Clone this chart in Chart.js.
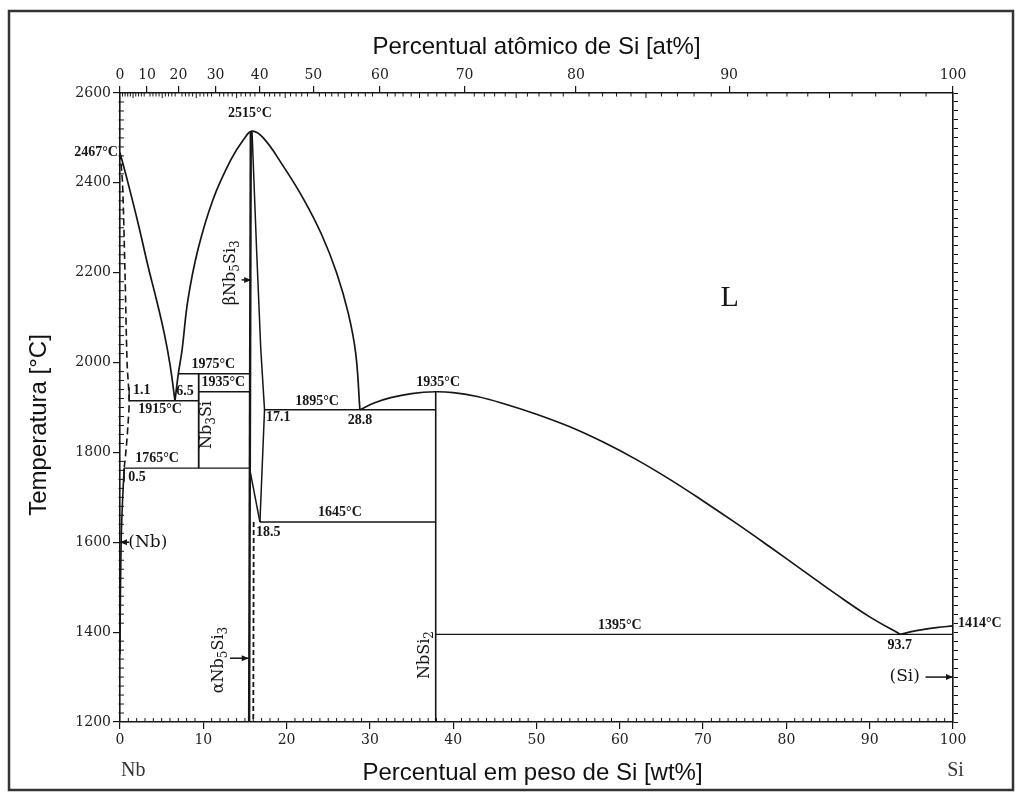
<!DOCTYPE html>
<html>
<head>
<meta charset="utf-8">
<script src="https://cdn.jsdelivr.net/npm/chart.js@4.4.1/dist/chart.umd.min.js"></script>
<style>
  html, body { margin: 0; padding: 0; background: #fff; }
  canvas { display: block; }
</style>
</head>
<body>
<canvas id="phaseChart" width="1021" height="800"></canvas>
<script>
// Nb-Si phase diagram: temperature (°C) against weight percent Si

const INK = '#161616';

// axis ticks
const wtTicks = [0, 10, 20, 30, 40, 50, 60, 70, 80, 90, 100];
const tempTicks = [1200, 1400, 1600, 1800, 2000, 2200, 2400, 2600];
const atTicks = [0, 10, 20, 30, 40, 50, 60, 70, 80, 90, 100];

// liquidus on the Nb side
const nbLiqWt = [0, 0.96, 2.2, 3.36, 4.4, 5.3, 6.0, 6.6];
const nbLiqT  = [2467, 2400, 2308, 2215, 2138, 2066, 1996, 1915];

// (Nb) solidus and solvus, dashed part
const nbSolWt = [0, 0.3, 0.6, 0.85, 1.1, 0.95, 0.75, 0.5];
const nbSolT  = [2467, 2400, 2200, 2000, 1915, 1860, 1810, 1765];
// (Nb) solvus, solid part
const nbSolvWt = [0.5, 0.3, 0.15, 0.05, 0];
const nbSolvT  = [1765, 1690, 1610, 1480, 1350];

// Nb3Si / Nb5Si3 liquidus dome
const domeWt = [6.6, 7.0, 7.45, 8.15, 9.35, 11.15, 13.3, 14.9, 15.85, 17.2, 19.5, 22.0, 24.2, 26.0, 27.4, 28.3, 28.8];
const domeT  = [1915, 1975, 2028, 2139, 2251, 2362, 2451, 2498, 2515, 2500, 2440, 2365, 2285, 2200, 2110, 2020, 1895];

// NbSi2 liquidus
const nbsi2LiqWt = [28.8, 30.5, 32.5, 35, 37.9, 40, 43, 46, 50, 54, 58, 62, 66, 70, 74, 78, 82, 86, 90, 93.7];
const nbsi2LiqT  = [1895, 1910, 1922, 1931, 1935, 1933, 1924, 1909, 1885, 1857, 1823, 1784, 1740, 1692, 1642, 1590, 1537, 1484, 1434, 1395];

// Si liquidus
const siLiqWt = [93.7, 95, 96.5, 98, 100];
const siLiqT  = [1395, 1401, 1406, 1410, 1414];

// Nb5Si3 field boundaries
const nb5si3LeftWt = [15.7, 15.5];
const nb5si3LeftT  = [2515, 1200];
const betaRightWt = [15.85, 16.4, 16.9, 17.35, 16.8];
const betaRightT  = [2515, 2250, 2030, 1895, 1645];
const alphaBetaWt = [15.55, 16.8];
const alphaBetaT  = [1765, 1645];
const alphaRightWt = [16.05, 16.0];
const alphaRightT  = [1645, 1200];

// compound lines
const nb3siWt = [9.45, 9.45];
const nb3siT  = [1975, 1765];
const nbsi2Wt = [37.9, 37.9];
const nbsi2T  = [1935, 1200];

// isotherms
const iso1975Wt = [7.0, 15.6];
const iso1975T  = [1975, 1975];
const iso1935Wt = [9.45, 15.6];
const iso1935T  = [1935, 1935];
const iso1915Wt = [1.1, 9.45];
const iso1915T  = [1915, 1915];
const iso1765Wt = [0.5, 15.55];
const iso1765T  = [1765, 1765];
const iso1895Wt = [17.35, 37.9];
const iso1895T  = [1895, 1895];
const iso1645Wt = [16.8, 37.9];
const iso1645T  = [1645, 1645];
const iso1395Wt = [37.9, 100];
const iso1395T  = [1395, 1395];

// short leaders to the composition labels
const lead11Wt = [1.1, 1.1];
const lead11T  = [1915, 1945];
const lead05Wt = [0.5, 0.5];
const lead05T  = [1765, 1735];

// arrows (tail -> head), wt% and °C
const arrowTails = [[1.1, 1600], [96.7, 1300], [13.2, 1342], [14.6, 2184]];
const arrowHeads = [[0, 1600], [100, 1300], [15.45, 1342], [15.75, 2184]];

// point labels
const noteText  = ['2515°C', '2467°C', '1975°C', '1935°C', '1.1', '1915°C', '6.5', '1765°C', '0.5', '1895°C', '17.1', '28.8', '1935°C', '1645°C', '18.5', '1395°C', '93.7', '1414°C'];
const noteWt    = [15.6, -0.25, 11.2, 12.4, 2.6, 4.8, 7.8, 4.45, 2.05, 23.65, 19.0, 28.8, 38.2, 26.4, 17.8, 60.0, 93.6, 100.6];
const noteT     = [2555, 2467, 1995, 1955, 1937, 1895, 1935, 1787, 1745, 1913, 1879, 1872, 1955, 1666, 1622, 1414, 1370, 1420];
const noteAlign = ['center', 'right', 'center', 'center', 'center', 'center', 'center', 'center', 'center', 'center', 'center', 'center', 'center', 'center', 'center', 'center', 'center', 'left'];

// phase names
const phaseText  = ['(Nb)', '(Si)'];
const phaseWt    = [1.0, 94.2];
const phaseT     = [1600, 1300];
const phaseAlign = ['left', 'center'];

// vertical compound names (_x = subscript)
const rotText = ['βNb_5Si_3', 'αNb_5Si_3', 'Nb_3Si', 'NbSi_2'];
const rotWt   = [13.3, 11.9, 10.45, 36.6];
const rotT    = [2200, 1338, 1861, 1349];

const SI_MASS = 28.0855, NB_MASS = 92.90638;
function atToWt(a) {
    return 100 * a * SI_MASS / (a * SI_MASS + (100 - a) * NB_MASS);
}

function line(wt, temp, extra) {
    return Object.assign({
        data: wt.map((x, i) => ({ x: x, y: temp[i] })),
        showLine: true,
        pointRadius: 0,
        pointHoverRadius: 0,
        borderColor: INK,
        borderWidth: 1.4,
        tension: 0,
        fill: false
    }, extra || {});
}
const curve = { tension: 0.4, borderWidth: 1.7 };

// text with simple subscripts
function drawRich(ctx, text, x, y, size, family, weight) {
    const parts = [];
    for (let i = 0; i < text.length; i++) {
        if (text[i] === '_') {
            parts.push({ s: text[i + 1], sub: true });
            i++;
        } else if (parts.length && !parts[parts.length - 1].sub) {
            parts[parts.length - 1].s += text[i];
        } else {
            parts.push({ s: text[i], sub: false });
        }
    }
    const mainFont = weight + ' ' + size + 'px ' + family;
    const subFont = weight + ' ' + Math.round(size * 0.78) + 'px ' + family;
    let total = 0;
    parts.forEach(p => {
        ctx.font = p.sub ? subFont : mainFont;
        p.w = ctx.measureText(p.s).width;
        total += p.w;
    });
    let cx = x - total / 2;
    ctx.textAlign = 'left';
    parts.forEach(p => {
        ctx.font = p.sub ? subFont : mainFont;
        ctx.fillText(p.s, cx, y + (p.sub ? size * 0.3 : 0));
        cx += p.w;
    });
}

const diagramExtras = {
    id: 'diagramExtras',
    afterDraw(chart) {
        const ctx = chart.ctx;
        const xs = chart.scales.x, ys = chart.scales.y;
        const area = chart.chartArea;
        const px = v => xs.getPixelForValue(v);
        const py = v => ys.getPixelForValue(v);

        ctx.save();
        ctx.strokeStyle = INK;
        ctx.fillStyle = INK;

        // minor ticks
        ctx.lineWidth = 1;
        ctx.beginPath();
        for (let w = 1; w < 100; w++) {
            if (w % 10 === 0) continue;
            ctx.moveTo(px(w), area.bottom);
            ctx.lineTo(px(w), area.bottom - 4);
        }
        for (let a = 1; a < 100; a++) {
            if (a % 10 === 0) continue;
            const x = px(atToWt(a));
            ctx.moveTo(x, area.top);
            ctx.lineTo(x, area.top + (a % 5 === 0 ? 5 : 3.5));
        }
        for (let t = 1220; t < 2600; t += 20) {
            if (t % 200 === 0) continue;
            ctx.moveTo(area.left - 1.5, py(t));
            ctx.lineTo(area.left + 4, py(t));
        }
        ctx.stroke();

        // arrows
        ctx.lineWidth = 1.5;
        arrowTails.forEach((tail, i) => {
            const head = arrowHeads[i];
            const x0 = px(tail[0]), y0 = py(tail[1]);
            const x1 = px(head[0]), y1 = py(head[1]);
            const dir = Math.sign(x1 - x0);
            ctx.beginPath();
            ctx.moveTo(x0, y0);
            ctx.lineTo(x1, y1);
            ctx.stroke();
            ctx.beginPath();
            ctx.moveTo(x1, y1);
            ctx.lineTo(x1 - dir * 7, y1 - 3);
            ctx.lineTo(x1 - dir * 7, y1 + 3);
            ctx.closePath();
            ctx.fill();
        });

        // point labels
        ctx.textBaseline = 'middle';
        ctx.font = 'bold 14px "Liberation Serif"';
        noteText.forEach((s, i) => {
            ctx.textAlign = noteAlign[i];
            ctx.fillText(s, px(noteWt[i]), py(noteT[i]));
        });

        ctx.font = '17px "DejaVu Serif"';
        phaseText.forEach((s, i) => {
            ctx.textAlign = phaseAlign[i];
            ctx.fillText(s, px(phaseWt[i]), py(phaseT[i]));
        });

        ctx.font = '30px "Liberation Serif"';
        ctx.textAlign = 'center';
        ctx.fillText('L', px(73.2), py(2144));

        rotText.forEach((s, i) => {
            ctx.save();
            ctx.translate(px(rotWt[i]), py(rotT[i]));
            ctx.rotate(-Math.PI / 2);
            drawRich(ctx, s, 0, 0, 16, '"DejaVu Serif"', 'normal');
            ctx.restore();
        });

        // axis titles
        ctx.fillStyle = '#111';
        ctx.font = '24px "Liberation Sans"';
        ctx.textAlign = 'center';
        ctx.fillText('Percentual atômico de Si [at%]', (area.left + area.right) / 2, 47);
        ctx.fillText('Percentual em peso de Si [wt%]', (area.left + area.right) / 2 - 4, 773);
        ctx.save();
        ctx.translate(39, 425);
        ctx.rotate(-Math.PI / 2);
        ctx.fillText('Temperatura [°C]', 0, 0);
        ctx.restore();

        // element names under the axis ends
        ctx.fillStyle = '#333';
        ctx.font = '20px "Liberation Serif"';
        ctx.fillText('Nb', px(1.6), 771);
        ctx.fillText('Si', px(100.3), 771);

        // outer frame
        ctx.strokeStyle = '#333';
        ctx.lineWidth = 2.5;
        ctx.strokeRect(9, 11, 1004, 779);
        ctx.restore();
    }
};

Chart.defaults.font.family = '"DejaVu Serif"';
Chart.defaults.color = '#222';

const tickFont = { size: 14 };
const axisGrid = { drawOnChartArea: false, tickLength: 7, color: INK, lineWidth: 1.2 };
const axisBorder = { color: INK, width: 1.6 };

new Chart(document.getElementById('phaseChart'), {
    type: 'scatter',
    data: {
        datasets: [
            line(nbLiqWt, nbLiqT, curve),
            line(nbSolWt, nbSolT, { borderDash: [7, 4], borderWidth: 1.6, tension: 0.3 }),
            line(nbSolvWt, nbSolvT, { borderWidth: 1.6, tension: 0.3 }),
            line(domeWt, domeT, curve),
            line(nbsi2LiqWt, nbsi2LiqT, curve),
            line(siLiqWt, siLiqT, curve),
            line(nb5si3LeftWt, nb5si3LeftT, { borderWidth: 2.4 }),
            line(betaRightWt, betaRightT, { borderWidth: 1.5 }),
            line(alphaBetaWt, alphaBetaT, { borderWidth: 1.5 }),
            line(alphaRightWt, alphaRightT, { borderDash: [5, 3], borderWidth: 1.8 }),
            line(nb3siWt, nb3siT, { borderWidth: 1.8 }),
            line(nbsi2Wt, nbsi2T, { borderWidth: 1.6 }),
            line(iso1975Wt, iso1975T),
            line(iso1935Wt, iso1935T),
            line(iso1915Wt, iso1915T),
            line(iso1765Wt, iso1765T),
            line(iso1895Wt, iso1895T),
            line(iso1645Wt, iso1645T),
            line(iso1395Wt, iso1395T),
            line(lead11Wt, lead11T),
            line(lead05Wt, lead05T)
        ]
    },
    options: {
        responsive: false,
        animation: false,
        layout: { padding: 0 },
        plugins: {
            legend: { display: false },
            tooltip: { enabled: false }
        },
        scales: {
            x: {
                type: 'linear',
                position: 'bottom',
                min: 0,
                max: 100,
                afterBuildTicks: s => { s.ticks = wtTicks.map(v => ({ value: v })); },
                ticks: { autoSkip: false, maxRotation: 0, padding: 3, font: tickFont, callback: v => String(v) },
                grid: axisGrid,
                border: axisBorder,
                afterFit: s => { s.height = 800 - 722; }
            },
            xTop: {
                type: 'linear',
                position: 'top',
                min: 0,
                max: 100,
                afterBuildTicks: s => { s.ticks = atTicks.map(a => ({ value: atToWt(a) })); },
                ticks: {
                    autoSkip: false,
                    maxRotation: 0,
                    padding: 2,
                    font: tickFont,
                    callback: (v, i) => String(atTicks[i])
                },
                grid: axisGrid,
                border: axisBorder,
                afterFit: s => { s.height = 93; }
            },
            y: {
                type: 'linear',
                position: 'left',
                min: 1200,
                max: 2600,
                afterBuildTicks: s => { s.ticks = tempTicks.map(v => ({ value: v })); },
                ticks: { autoSkip: false, padding: 2, font: tickFont, callback: v => String(v) },
                grid: axisGrid,
                border: axisBorder,
                afterFit: s => { s.width = 120; }
            },
            yRight: {
                type: 'linear',
                position: 'right',
                min: 1200,
                max: 2600,
                ticks: { autoSkip: false, stepSize: 20, padding: 0, font: { size: 8 }, callback: () => '' },
                grid: { drawOnChartArea: false, tickLength: 5, color: INK, lineWidth: 1 },
                border: axisBorder,
                afterFit: s => { s.width = 1021 - 953; }
            }
        }
    },
    plugins: [diagramExtras]
});
</script>
</body>
</html>
